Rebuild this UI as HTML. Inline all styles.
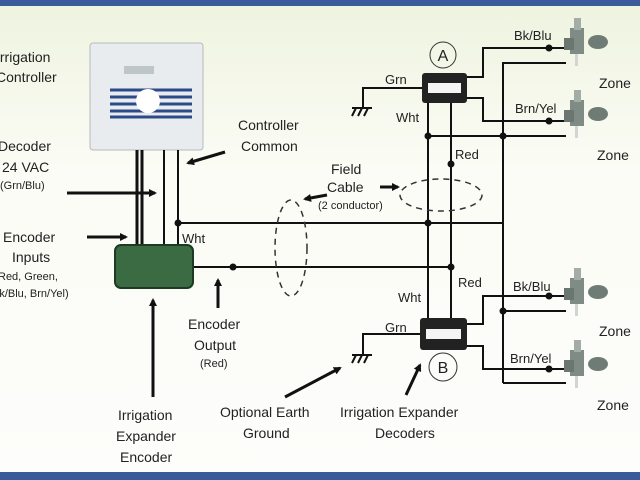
<!DOCTYPE html>
<html><head><meta charset="utf-8"><style>
html,body{margin:0;padding:0;}
body{width:640px;height:480px;overflow:hidden;background:#fbfcf7;}
svg{display:block;font-family:"Liberation Sans",sans-serif;fill:#222;}
</style></head><body>
<svg width="640" height="480" viewBox="0 0 640 480">
<defs>
<linearGradient id="bg" x1="0" y1="0" x2="0" y2="1"><stop offset="0" stop-color="#eef3df"/><stop offset="0.35" stop-color="#fbfcf5"/><stop offset="1" stop-color="#fdfdfb"/></linearGradient>
<marker id="ar" markerWidth="8" markerHeight="8" refX="6" refY="4" orient="auto" markerUnits="userSpaceOnUse"><path d="M0,0 L8,4 L0,8 z" fill="#111"/></marker>
<g id="valve"><rect x="0" y="0" width="14" height="26" fill="#7f8b85"/><rect x="4" y="-10" width="7" height="12" fill="#a3aca7"/><rect x="-6" y="10" width="10" height="12" fill="#6a766f"/><ellipse cx="28" cy="14" rx="10" ry="7" fill="#6f7b75"/><rect x="5" y="26" width="3" height="12" fill="#d0d6d2"/></g>
</defs>
<rect width="640" height="480" fill="url(#bg)"/>
<rect x="0" y="0" width="640" height="6" fill="#3a5a9a"/>
<rect x="0" y="472" width="640" height="8" fill="#3a5a9a"/>
<rect x="90" y="43" width="113" height="107" rx="3" fill="#e9ecee" stroke="#b5babd"/>
<rect x="124" y="66" width="30" height="8" fill="#bfc6c8"/>
<g stroke="#2c4a88" stroke-width="3"><line x1="110" y1="90" x2="192" y2="90"/><line x1="110" y1="97" x2="192" y2="97"/><line x1="110" y1="104" x2="192" y2="104"/><line x1="110" y1="111" x2="192" y2="111"/><line x1="110" y1="117" x2="192" y2="117"/></g>
<circle cx="148" cy="101" r="12" fill="#fff"/>
<g stroke="#111" stroke-width="3" fill="none">
<line x1="137" y1="150" x2="137" y2="245"/><line x1="142" y1="150" x2="142" y2="245"/>
</g>
<g stroke="#111" stroke-width="2" fill="none">
<line x1="164" y1="150" x2="164" y2="245"/><line x1="178" y1="150" x2="178" y2="245"/>
<polyline points="178,223 503,223"/>
<polyline points="193,267 451,267"/>
<line x1="428" y1="103" x2="428" y2="318"/>
<line x1="451" y1="103" x2="451" y2="318"/>
<polyline points="503,383 503,63 566,63"/>
<line x1="428" y1="136" x2="566" y2="136"/>
<line x1="503" y1="311" x2="566" y2="311"/>
<line x1="503" y1="383" x2="566" y2="383"/>
<polyline points="467,77 483,77 483,48 566,48"/>
<polyline points="467,98 483,98 483,121 566,121"/>
<polyline points="467,324 483,324 483,296 566,296"/>
<polyline points="467,346 483,346 483,369 566,369"/>
<polyline points="422,88 363,88 363,108"/>
<polyline points="420,334 363,334 363,355"/>
<path d="M352,108 L372,108 M356,108 l-4,8 M362,108 l-4,8 M368,108 l-4,8"/>
<path d="M352,355 L372,355 M356,355 l-4,8 M362,355 l-4,8 M368,355 l-4,8"/>
</g>
<g fill="#111">
<circle cx="178" cy="223" r="3.5"/><circle cx="233" cy="267" r="3.5"/><circle cx="428" cy="223" r="3.5"/><circle cx="451" cy="267" r="3.5"/>
<circle cx="428" cy="136" r="3.5"/><circle cx="503" cy="136" r="3.5"/><circle cx="451" cy="164" r="3.5"/><circle cx="503" cy="311" r="3.5"/>
<circle cx="549" cy="48" r="3.5"/><circle cx="549" cy="121" r="3.5"/><circle cx="549" cy="296" r="3.5"/><circle cx="549" cy="369" r="3.5"/>
</g>
<rect x="115" y="245" width="78" height="43" rx="6" fill="#3b6b42" stroke="#1d3a22" stroke-width="2"/>
<rect x="422" y="73" width="45" height="30" rx="3" fill="#222"/><rect x="428" y="83" width="33" height="10" fill="#f4f4f4"/>
<rect x="420" y="318" width="47" height="32" rx="3" fill="#222"/><rect x="426" y="329" width="35" height="10" fill="#f4f4f4"/>
<circle cx="443" cy="55" r="13" fill="none" stroke="#333"/><text x="443" y="61" font-size="16" text-anchor="middle">A</text>
<circle cx="443" cy="367" r="14" fill="none" stroke="#333"/><text x="443" y="373" font-size="16" text-anchor="middle">B</text>
<ellipse cx="291" cy="248" rx="16" ry="48" fill="none" stroke="#333" stroke-width="1.5" stroke-dasharray="6,5"/>
<ellipse cx="441" cy="195" rx="41" ry="16" fill="none" stroke="#333" stroke-width="1.5" stroke-dasharray="6,5"/>
<use href="#valve" x="570" y="28"/><use href="#valve" x="570" y="100"/><use href="#valve" x="570" y="278"/><use href="#valve" x="570" y="350"/>
<g stroke="#111" stroke-width="3" fill="none" marker-end="url(#ar)">
<line x1="225" y1="152" x2="188" y2="163"/>
<line x1="67" y1="193" x2="155" y2="193"/>
<line x1="87" y1="237" x2="126" y2="237"/>
<line x1="218" y1="308" x2="218" y2="280"/>
<line x1="153" y1="397" x2="153" y2="300"/>
<line x1="285" y1="397" x2="340" y2="368"/>
<line x1="406" y1="395" x2="420" y2="365"/>
<line x1="327" y1="195" x2="305" y2="199"/>
<line x1="380" y1="187" x2="398" y2="187"/>
</g>
<g font-size="14">
<text x="-4" y="62">Irrigation</text><text x="-4" y="82">Controller</text>
<text x="-2" y="151">Decoder</text><text x="2" y="172">24 VAC</text>
<text x="0" y="189" font-size="11">(Grn/Blu)</text>
<text x="3" y="242">Encoder</text><text x="12" y="262">Inputs</text>
<text x="-2" y="280" font-size="11">Red, Green,</text><text x="-8" y="297" font-size="11">Bk/Blu, Brn/Yel)</text>
<text x="238" y="130">Controller</text><text x="241" y="151">Common</text>
<text x="331" y="174">Field</text><text x="327" y="192">Cable</text>
<text x="318" y="209" font-size="11">(2 conductor)</text>
<text x="182" y="243" font-size="13">Wht</text>
<text x="188" y="329">Encoder</text><text x="194" y="350">Output</text>
<text x="200" y="367" font-size="11">(Red)</text>
<text x="118" y="420">Irrigation</text><text x="116" y="441">Expander</text><text x="120" y="462">Encoder</text>
<text x="220" y="417">Optional Earth</text><text x="243" y="438">Ground</text>
<text x="340" y="417">Irrigation Expander</text><text x="375" y="438">Decoders</text>
<text x="385" y="84" font-size="13">Grn</text><text x="396" y="122" font-size="13">Wht</text>
<text x="455" y="159" font-size="13">Red</text>
<text x="458" y="287" font-size="13">Red</text>
<text x="398" y="302" font-size="13">Wht</text><text x="385" y="332" font-size="13">Grn</text>
<text x="514" y="40" font-size="13">Bk/Blu</text><text x="515" y="113" font-size="13">Brn/Yel</text>
<text x="513" y="291" font-size="13">Bk/Blu</text><text x="510" y="363" font-size="13">Brn/Yel</text>
<text x="599" y="88">Zone</text><text x="597" y="160">Zone</text>
<text x="599" y="336">Zone</text><text x="597" y="410">Zone</text>
</g>
</svg>
</body></html>
